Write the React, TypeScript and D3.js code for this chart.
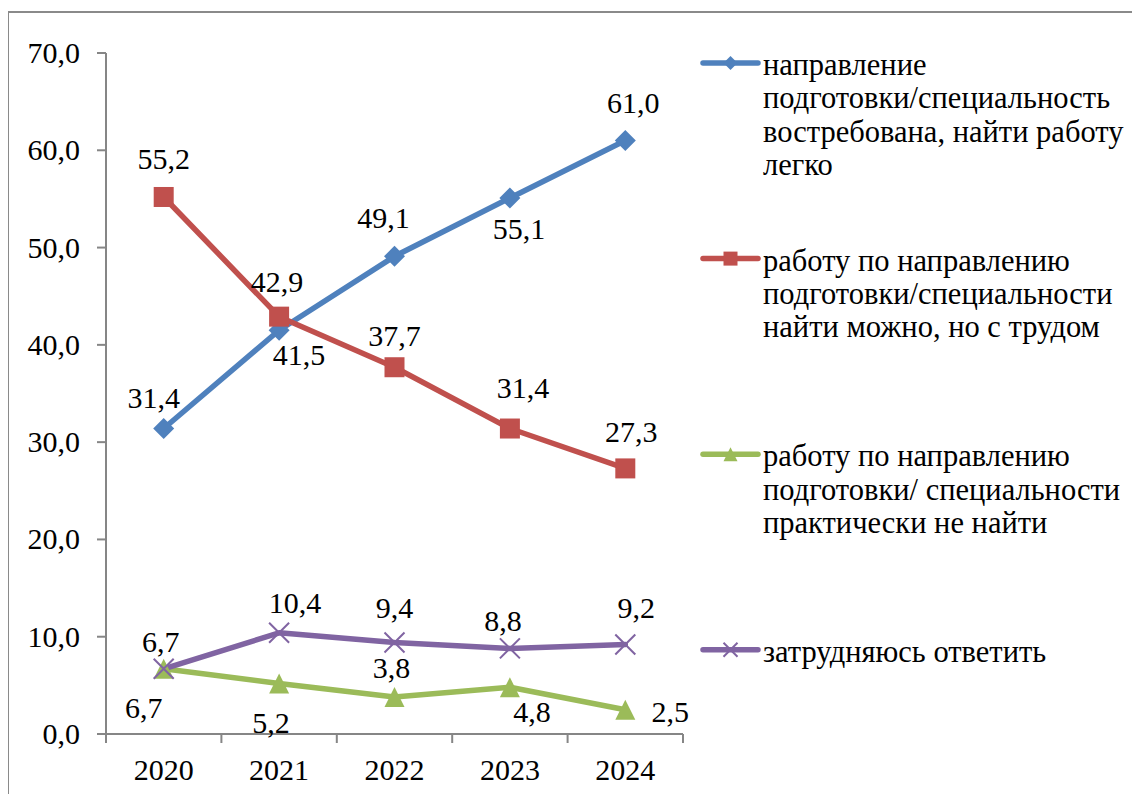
import React from "react";
import * as d3 from "d3";

const years = ["2020", "2021", "2022", "2023", "2024"];
const seriesEasy = [31.4, 41.5, 49.1, 55.1, 61.0];
const seriesHard = [55.2, 42.9, 37.7, 31.4, 27.3];
const seriesNone = [6.7, 5.2, 3.8, 4.8, 2.5];
const seriesUnsure = [6.7, 10.4, 9.4, 8.8, 9.2];
const yTicks = [0, 10, 20, 30, 40, 50, 60, 70];

const legendEasy = ["направление", "подготовки/специальность", "востребована, найти работу", "легко"];
const legendHard = ["работу по направлению", "подготовки/специальности", "найти можно, но с трудом"];
const legendNone = ["работу по направлению", "подготовки/ специальности", "практически не найти"];
const legendUnsure = ["затрудняюсь ответить"];

// label offsets (dx, dy) relative to each point, as placed in the source
const offEasy = [[-10, -31], [20, 25], [-11, -38], [9, 31], [8, -38]];
const offHard = [[0, -38], [-2, -35], [0, -31], [13, -41], [6, -36]];
const offNone = [[-20, 39], [-8, 40], [-3, -29], [22, 25], [45, 2]];
const offUnsure = [[-3, -27], [16, -30], [0, -35], [-7, -27], [11, -36]];

const fmt = (v: number) => v.toFixed(1).replace(".", ",");

export default function App() {
  const W = 1140, H = 794;
  const left = 106, right = 683, top = 53, bottom = 734;
  const x = d3.scaleBand<string>().domain(years).range([left, right]);
  const y = d3.scaleLinear().domain([0, 70]).range([bottom, top]);
  const cx = (d: string) => (x(d) as number) + x.bandwidth() / 2;
  const line = d3.line<number>().x((_, i) => cx(years[i])).y((v) => y(v));
  const fs = 30;
  const lfs = 30.5;

  const series = [
    { vals: seriesEasy, color: "#4F81BD", marker: "diamond", legend: legendEasy, off: offEasy },
    { vals: seriesHard, color: "#C0504D", marker: "square", legend: legendHard, off: offHard },
    { vals: seriesNone, color: "#9BBB59", marker: "triangle", legend: legendNone, off: offNone },
    { vals: seriesUnsure, color: "#8064A2", marker: "x", legend: legendUnsure, off: offUnsure },
  ];

  const marker = (type: string, px: number, py: number, color: string, s: number, key: string) => {
    if (type === "diamond") {
      return <path key={key} d={`M${px},${py - s}L${px + s},${py}L${px},${py + s}L${px - s},${py}Z`} fill={color} />;
    }
    if (type === "square") {
      return <rect key={key} x={px - s} y={py - s} width={2 * s} height={2 * s} fill={color} />;
    }
    if (type === "triangle") {
      return <path key={key} d={`M${px},${py - s}L${px + s},${py + s}L${px - s},${py + s}Z`} fill={color} />;
    }
    return (
      <path key={key} d={`M${px - s},${py - s}L${px + s},${py + s}M${px - s},${py + s}L${px + s},${py - s}`} stroke={color} strokeWidth={2} fill="none" />
    );
  };
  const mSize: Record<string, number> = { diamond: 10.5, square: 10, triangle: 10, x: 10 };
  const legMSize: Record<string, number> = { diamond: 7, square: 7, triangle: 7, x: 7 };

  const legendX0 = 703, legendX1 = 758, textX = 763;
  const legendY0 = 63, legendStep = 195.6, lineH = 33.3;

  return (
    <svg width={W} height={H} style={{ display: "block", margin: "-8px 0 0 -8px" }}>
      <rect x={8} y={12} width={1300} height={1000} fill="none" stroke="#8a8a8a" strokeWidth={2} />
      <line x1={left} x2={left} y1={top} y2={bottom} stroke="#868686" strokeWidth={2} />
      {yTicks.map((t) => (
        <line key={"yt" + t} x1={left - 9} x2={left} y1={y(t)} y2={y(t)} stroke="#868686" strokeWidth={2} />
      ))}
      {yTicks.map((t) => (
        <text key={"yl" + t} x={80} y={y(t) + 10} textAnchor="end" fontSize={fs} style={{ fontFamily: "Liberation Serif" }}>{fmt(t)}</text>
      ))}
      <line x1={left} x2={right} y1={bottom} y2={bottom} stroke="#868686" strokeWidth={2} />
      {[...years.map((d) => x(d) as number), right].map((bx, i) => (
        <line key={"xt" + i} x1={bx} x2={bx} y1={bottom} y2={bottom + 9} stroke="#868686" strokeWidth={2} />
      ))}
      {years.map((d) => (
        <text key={d} x={cx(d)} y={780} textAnchor="middle" fontSize={fs} style={{ fontFamily: "Liberation Serif" }}>{d}</text>
      ))}
      {series.map((s, si) => (
        <path key={"l" + si} d={line(s.vals) as string} fill="none" stroke={s.color} strokeWidth={5.5} strokeLinejoin="round" strokeLinecap="round" />
      ))}
      {series.map((s, si) => (
        <g key={"m" + si}>{s.vals.map((v, i) => marker(s.marker, cx(years[i]), y(v), s.color, mSize[s.marker], `${si}-${i}`))}</g>
      ))}
      {series.map((s, si) =>
        s.vals.map((v, i) => (
          <text key={`t${si}-${i}`} x={cx(years[i]) + s.off[i][0]} y={y(v) + s.off[i][1] + 10} textAnchor="middle" fontSize={fs} style={{ fontFamily: "Liberation Serif" }}>{fmt(v)}</text>
        ))
      )}
      {series.map((s, si) => {
        const ly = legendY0 + si * legendStep;
        const mx = (legendX0 + legendX1) / 2;
        return (
          <g key={"lg" + si}>
            <line x1={legendX0} x2={legendX1} y1={ly} y2={ly} stroke={s.color} strokeWidth={5.5} strokeLinecap="round" />
            {marker(s.marker, mx, ly, s.color, legMSize[s.marker], "lm" + si)}
          </g>
        );
      })}
      {series.map((s, si) =>
        s.legend.map((ln, li) => (
          <text key={`lt${si}-${li}`} x={textX} y={legendY0 + si * legendStep + 12 + li * lineH} fontSize={lfs} style={{ fontFamily: "Liberation Serif" }}>{ln}</text>
        ))
      )}
    </svg>
  );
}
